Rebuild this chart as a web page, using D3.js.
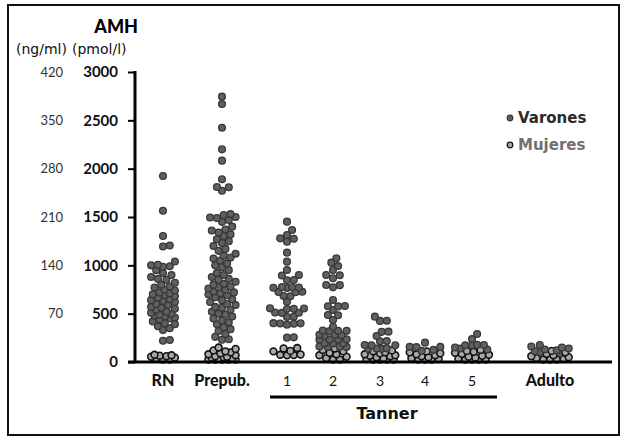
<!DOCTYPE html>
<html>
<head>
<meta charset="utf-8">
<script src="https://cdn.jsdelivr.net/npm/d3@7"></script>
<style>
  body { margin: 0; background: #fff; }
  svg { display: block; font-family: Lato, "DejaVu Sans", sans-serif; }
</style>
</head>
<body>
<svg id="chart" width="626" height="438"></svg>
<script>
// categorias del eje x
const categorias = ['RN', 'Prepub.', '1', '2', '3', '4', '5', 'Adulto'];

// valores de AMH (pmol/l), por categoria
const varonesRN = [1924, 1565, 1303, 1205, 1195, 1040, 1005, 1000, 990, 985, 950, 920, 900, 880, 860, 850, 820, 800, 780, 770, 750, 740, 720, 710, 700, 690, 680, 665, 650, 640, 630, 620, 600, 590, 570, 560, 550, 540, 520, 510, 500, 490, 480, 470, 460, 450, 440, 420, 400, 390, 370, 350, 330, 228, 220];
const mujeresRN = [15, 25, 35, 45, 55, 65, 70, 75, 60];

const varonesPrepub = [2745, 2669, 2424, 2200, 2083, 1890, 1810, 1807, 1772, 1530, 1520, 1500, 1495, 1490, 1470, 1450, 1400, 1370, 1360, 1340, 1320, 1300, 1270, 1250, 1230, 1200, 1170, 1150, 1120, 1100, 1080, 1070, 1050, 1020, 1000, 980, 950, 920, 900, 880, 860, 850, 830, 810, 800, 780, 770, 760, 745, 730, 720, 710, 700, 690, 670, 650, 640, 620, 600, 590, 570, 560, 540, 520, 500, 490, 470, 450, 430, 410, 390, 360, 340, 320, 290, 260, 235, 230];
const mujeresPrepub = [5, 10, 15, 20, 25, 30, 35, 40, 45, 50, 55, 60, 70, 80, 90, 100, 110, 120, 135, 150];

const varonesT1 = [1452, 1366, 1314, 1279, 1275, 1245, 1131, 1038, 952, 900, 895, 848, 845, 775, 772, 770, 768, 765, 727, 725, 722, 683, 680, 624, 555, 553, 550, 548, 512, 510, 508, 469, 466, 402, 400, 398, 396, 386, 255, 252];
const mujeresT1 = [145, 140, 115, 110, 75, 70, 72, 78];

const varonesT2 = [1072, 1028, 993, 952, 900, 898, 866, 797, 795, 772, 641, 579, 577, 575, 538, 486, 484, 434, 365, 326, 324, 322, 320, 281, 279, 277, 275, 236, 234, 232, 230, 195, 193, 191, 160, 158, 156, 154];
const mujeresT2 = [140, 125, 110, 95, 80, 70, 55, 40, 25, 15];

const varonesT3 = [469, 427, 425, 314, 312, 269, 217, 215, 176, 174, 172, 141, 140, 138, 136];
const mujeresT3 = [120, 110, 100, 90, 80, 70, 60, 50, 40, 30, 20, 10, 5, 15, 65];

const varonesT4 = [200, 158, 156, 154, 125, 115];
const mujeresT4 = [110, 100, 90, 80, 70, 60, 50, 40, 30, 20, 10, 5];

const varonesT5 = [290, 238, 178, 176, 174, 172, 150, 140, 130];
const mujeresT5 = [125, 115, 105, 95, 85, 75, 65, 55, 45, 35, 25, 15, 8, 5];

const varonesAdulto = [176, 160, 150, 140, 130, 120, 110, 100, 90];
const mujeresAdulto = [115, 100, 85, 70, 60, 50, 40, 30, 20, 10, 5];

// marcas del eje y
const ticksPmol = [0, 500, 1000, 1500, 2000, 2500, 3000];
const ticksNg = ['', '70', '140', '210', '280', '350', '420'];

const series = [
  { sexo: 'V', grupos: [varonesRN, varonesPrepub, varonesT1, varonesT2, varonesT3, varonesT4, varonesT5, varonesAdulto] },
  { sexo: 'M', grupos: [mujeresRN, mujeresPrepub, mujeresT1, mujeresT2, mujeresT3, mujeresT4, mujeresT5, mujeresAdulto] }
];

const relleno = { V: '#606060', M: '#a8a8a8' };
const borde = { V: '#383838', M: '#111' };
const ancha = '"DejaVu Sans", sans-serif';

const svg = d3.select('#chart');

// marco
svg.append('rect')
  .attr('x', 8).attr('y', 5)
  .attr('width', 611).attr('height', 430)
  .attr('fill', 'none').attr('stroke', '#111').attr('stroke-width', 2);

const y = d3.scaleLinear().domain([0, 3000]).range([362, 72]);
const x = d3.scaleOrdinal().domain(categorias).range([163, 222, 287, 333, 380, 425, 472, 550]);
const semiAncho = d3.scaleOrdinal().domain(categorias).range([13, 14, 17, 15, 16, 16, 18, 20]);

// puntos agrupados en enjambre por categoria (ancho limitado, con solape)
const r = 3.4;
const paso = 1.7;
const minD = 6.2;
const puntos = [];
categorias.forEach((cat, i) => {
  const vals = [];
  series.forEach(s => s.grupos[i].forEach(v => vals.push({ v, sexo: s.sexo })));
  vals.sort((a, b) => a.v - b.v);
  const colocados = [];
  const lim = semiAncho(cat);
  vals.forEach(d => {
    const yy = Math.min(y(d.v), y(0) - r + 1);
    let mejor = 0, mejorDist = -1;
    for (let k = 0; k < 200; k++) {
      const off = (k % 2 ? 1 : -1) * Math.ceil(k / 2) * paso;
      if (Math.abs(off) > lim) break;
      let dist = Infinity;
      colocados.forEach(p => { dist = Math.min(dist, Math.hypot(p.dx - off, p.cy - yy)); });
      if (dist >= minD) { mejor = off; mejorDist = dist; break; }
      if (dist > mejorDist) { mejorDist = dist; mejor = off; }
    }
    const p = { cat, v: d.v, sexo: d.sexo, dx: mejor, cy: yy };
    colocados.push(p);
    puntos.push(p);
  });
});

svg.append('g')
  .selectAll('circle')
  .data(puntos)
  .join('circle')
  .attr('cx', d => x(d.cat) + d.dx)
  .attr('cy', d => d.cy)
  .attr('r', r)
  .attr('fill', d => relleno[d.sexo])
  .attr('stroke', d => borde[d.sexo])
  .attr('stroke-width', d => d.sexo === 'V' ? 1.3 : 1.6);

// eje y
const ejeY = svg.append('g').attr('transform', 'translate(135,0)');
ejeY.call(d3.axisLeft(y).tickValues(d3.range(0, 3001, 50)).tickSize(3).tickFormat(''));
ejeY.call(d3.axisLeft(y).tickValues(ticksPmol).tickSize(7).tickFormat(''));
ejeY.selectAll('path').remove();
ejeY.selectAll('line').attr('stroke', '#000').attr('stroke-width', 2);
svg.append('line')
  .attr('x1', 135).attr('x2', 135)
  .attr('y1', y(3000) - 1).attr('y2', y(0))
  .attr('stroke', '#000').attr('stroke-width', 3);

// eje x
svg.append('line')
  .attr('x1', 128).attr('x2', 612)
  .attr('y1', y(0)).attr('y2', y(0))
  .attr('stroke', '#000').attr('stroke-width', 3);

// etiquetas y
svg.append('g').selectAll('text')
  .data(ticksPmol)
  .join('text')
  .attr('x', 118)
  .attr('y', d => y(d))
  .attr('dy', '0.35em')
  .attr('text-anchor', 'end')
  .attr('font-size', 15)
  .attr('font-weight', 'bold')
  .attr('fill', '#111')
  .text(d => d);

svg.append('g').selectAll('text')
  .data(ticksPmol)
  .join('text')
  .attr('x', 63)
  .attr('y', d => y(d))
  .attr('dy', '0.35em')
  .attr('text-anchor', 'end')
  .attr('font-size', 13)
  .attr('fill', '#333')
  .text((d, i) => ticksNg[i]);

// titulos del eje y
svg.append('text').attr('x', 138).attr('y', 33).attr('text-anchor', 'end')
  .attr('font-size', 18).attr('font-weight', 900).attr('fill', '#000').text('AMH');
svg.append('text').attr('x', 16).attr('y', 54)
  .attr('font-family', ancha)
  .attr('font-size', 14).attr('fill', '#111').text('(ng/ml)');
svg.append('text').attr('x', 72).attr('y', 54)
  .attr('font-family', ancha)
  .attr('font-size', 14).attr('fill', '#111').text('(pmol/l)');

// etiquetas x
svg.append('g').selectAll('text')
  .data(categorias)
  .join('text')
  .attr('x', d => x(d))
  .attr('y', 386)
  .attr('text-anchor', 'middle')
  .attr('font-size', d => d.length === 1 ? 14 : 16)
  .attr('font-weight', d => d.length === 1 ? 'normal' : 900)
  .attr('fill', '#111')
  .text(d => d);

// linea Tanner
svg.append('line')
  .attr('x1', 270).attr('x2', 497)
  .attr('y1', 397).attr('y2', 397)
  .attr('stroke', '#000').attr('stroke-width', 3);
svg.append('text').attr('x', 387).attr('y', 419).attr('text-anchor', 'middle')
  .attr('font-family', ancha)
  .attr('font-size', 16).attr('font-weight', 'bold').attr('fill', '#111').text('Tanner');

// leyenda
const leyenda = svg.append('g');
const items = [
  { nombre: 'Varones', sexo: 'V', color: '#2a2a2a' },
  { nombre: 'Mujeres', sexo: 'M', color: '#707070' }
];
items.forEach((it, i) => {
  const yy = 118 + i * 27;
  leyenda.append('circle')
    .attr('cx', 510).attr('cy', yy).attr('r', 2.8)
    .attr('fill', relleno[it.sexo])
    .attr('stroke', borde[it.sexo])
    .attr('stroke-width', 1.2);
  leyenda.append('text')
    .attr('x', 518).attr('y', yy).attr('dy', '0.35em')
    .attr('font-family', ancha)
    .attr('font-size', 15).attr('font-weight', 'bold')
    .attr('fill', it.color)
    .text(it.nombre);
});
</script>
</body>
</html>
